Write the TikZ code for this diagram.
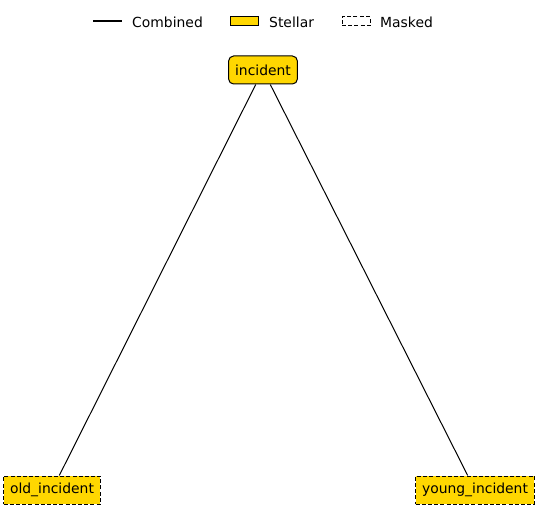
\documentclass[tikz,border=0pt]{standalone}
\usepackage{fontspec}
\setmainfont{DejaVu Sans}
\usepackage{tikz}
\usetikzlibrary{positioning}

\definecolor{stellar}{HTML}{FFD700}

\tikzset{
	leaf/.style={draw, fill=stellar, line width=1pt, minimum height=28pt, inner xsep=6.5pt, inner ysep=0pt},
	root/.style={leaf, rounded corners=5pt},
	masked/.style={leaf, dashed, dash pattern=on 4pt off 2.2pt},
	link/.style={line width=1pt},
}

\begin{document}
\begin{tikzpicture}[x=1pt, y=-1pt, font=\fontsize{13.9}{16}\selectfont]
	\useasboundingbox (0,0) rectangle (537,521);

	% Legend
	\coordinate (ls) at (93, 21);
	\coordinate (le) at (122, 21);
	\draw[link, line width=1.5pt] (ls) -- (le);
	\node (lcomb) [anchor=west, inner sep=0pt] at (132, 22) {Combined};
	\node (lstel) [draw, fill=stellar, line width=1pt, minimum width=28pt, minimum height=9pt, inner sep=0pt] at (244, 21.5) {};
	\node (tstel) [anchor=west, inner sep=0pt] at (269, 22) {Stellar};
	\node (lmask) [draw, dashed, dash pattern=on 4pt off 2.2pt, line width=1pt, minimum width=28pt, minimum height=9pt, inner sep=0pt] at (356, 21.5) {};
	\node (tmask) [anchor=west, inner sep=0pt] at (380, 22) {Masked};

	% Tree nodes
	\node (incident) [root] at (263, 70) {incident};
	\node (old) [masked] at (52, 490) {old\_incident};
	\node (young) [masked] at (475, 490) {young\_incident};

	% Edges
	\draw[link] (incident) -- (old);
	\draw[link] (incident) -- (young);
\end{tikzpicture}
\end{document}
